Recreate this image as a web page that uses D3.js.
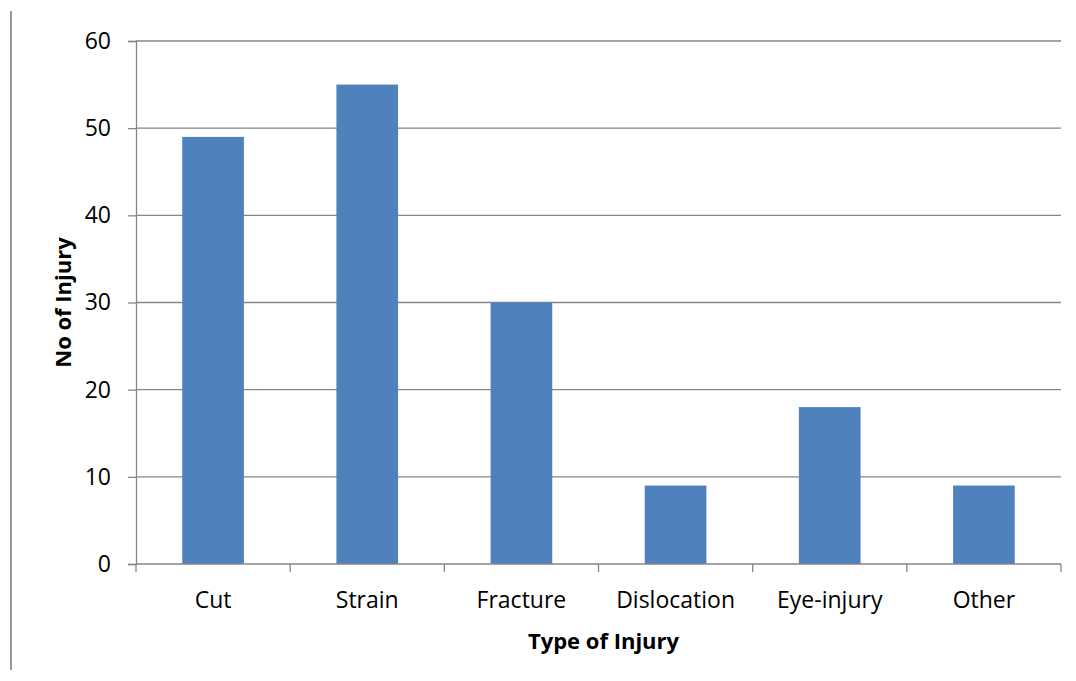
<!DOCTYPE html>
<html>
<head>
<meta charset="utf-8">
<script src="https://cdn.jsdelivr.net/npm/d3@7"></script>
<style>
  html, body { margin: 0; padding: 0; background: #fff; }
  svg { display: block; font-family: "Open Sans", "Liberation Sans", sans-serif; }
</style>
</head>
<body>
<svg id="chart" width="1076" height="681"></svg>
<script>
// Injury counts by type
const categories = ["Cut", "Strain", "Fracture", "Dislocation", "Eye-injury", "Other"];
const injuries = [49, 55, 30, 9, 18, 9];
const yTicks = [0, 10, 20, 30, 40, 50, 60];

const svg = d3.select("#chart");
const margin = { left: 136, right: 15, top: 41, bottom: 117 };
const W = 1076, H = 681;
const x0 = margin.left, x1 = W - margin.right;
const y0 = H - margin.bottom, y1 = margin.top;

const x = d3.scaleBand().domain(categories).range([x0, x1]).paddingInner(0.6).paddingOuter(0.3);
const y = d3.scaleLinear().domain([0, 60]).range([y0, y1]);
const grey = "#868686";

// frame line on the left edge
svg.append("line").attr("x1", 11).attr("x2", 11).attr("y1", 11).attr("y2", 670)
  .attr("stroke", "#999").attr("stroke-width", 2);

// horizontal gridlines
svg.append("g").selectAll("line").data(yTicks.filter(d => d > 0)).join("line")
  .attr("x1", x0).attr("x2", x1)
  .attr("y1", d => y(d)).attr("y2", d => y(d))
  .attr("stroke", grey).attr("stroke-width", 1.3);

// bars
svg.append("g").selectAll("rect").data(categories).join("rect")
  .attr("x", d => x(d))
  .attr("width", x.bandwidth())
  .attr("y", (d, i) => y(injuries[i]))
  .attr("height", (d, i) => y(0) - y(injuries[i]))
  .attr("fill", "#4F81BD");

// y axis
const yAxis = svg.append("g").attr("transform", `translate(${x0},0)`)
  .call(d3.axisLeft(y).tickValues(yTicks).tickSize(8).tickPadding(17));
yAxis.select(".domain").attr("stroke", grey).attr("stroke-width", 1.3);
yAxis.selectAll(".tick line").attr("stroke", grey).attr("stroke-width", 1.3);
yAxis.selectAll("text").attr("font-size", 23).attr("fill", "#000")
  .attr("font-family", "Open Sans, sans-serif");

// x axis with ticks at band boundaries
const step = (x1 - x0) / categories.length;
const xAxis = svg.append("g").attr("transform", `translate(0,${y0})`);
xAxis.append("line").attr("x1", x0).attr("x2", x1).attr("y1", 0).attr("y2", 0)
  .attr("stroke", grey).attr("stroke-width", 1.3);
xAxis.selectAll("line.tk").data(d3.range(categories.length + 1)).join("line")
  .attr("class", "tk")
  .attr("x1", i => x0 + i * step).attr("x2", i => x0 + i * step)
  .attr("y1", 0).attr("y2", 8)
  .attr("stroke", grey).attr("stroke-width", 1.3);
xAxis.selectAll("text").data(categories).join("text")
  .attr("x", d => x(d) + x.bandwidth() / 2)
  .attr("y", 44)
  .attr("text-anchor", "middle")
  .attr("font-size", 23)
  .text(d => d);

// axis titles
svg.append("text").attr("x", (x0 + x1) / 2 + 5).attr("y", 649)
  .attr("text-anchor", "middle").attr("font-size", 22).attr("font-weight", "bold")
  .text("Type of Injury");
svg.append("text").attr("transform", `translate(71,${(y0 + y1) / 2}) rotate(-90)`)
  .attr("text-anchor", "middle").attr("font-size", 22).attr("font-weight", "bold")
  .text("No of Injury");
</script>
</body>
</html>
